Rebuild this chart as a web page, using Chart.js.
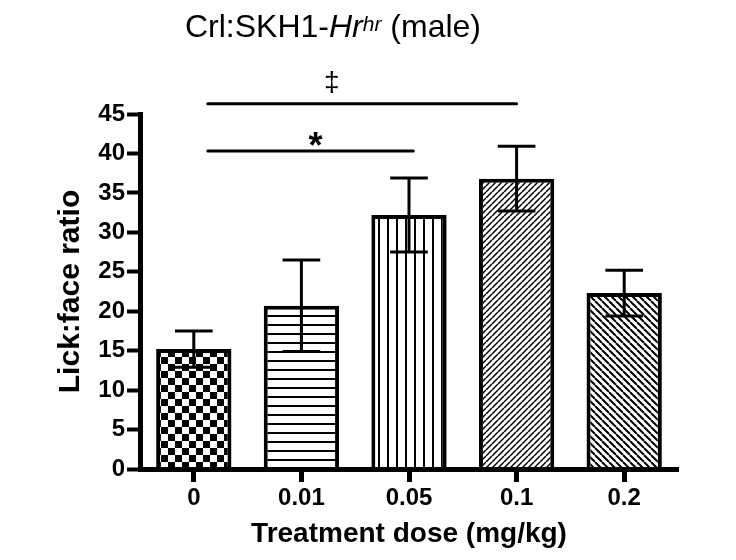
<!DOCTYPE html>
<html>
<head>
<meta charset="utf-8">
<title>Lick:face ratio - Crl:SKH1-Hr(hr) male</title>
<script src="https://cdn.jsdelivr.net/npm/chart.js@4.4.1/dist/chart.umd.min.js"></script>
<style>
  html, body { margin: 0; padding: 0; background: #fff; }
  canvas { display: block; }
</style>
</head>
<body>
<canvas id="licksChart" width="736" height="560"></canvas>
<script>
// Datos
var doses = ['0', '0.01', '0.05', '0.1', '0.2'];
var ratioMean = [15.2, 20.7, 32.2, 36.8, 22.3];
var ratioSem = [2.3, 5.8, 4.7, 4.1, 2.9];
var yMax = 45;
var yStep = 5;

// Comparaciones significativas (en unidades de categoría / valor)
var sigFrom = [0.13, 0.13];
var sigTo = [2.04, 3.0];
var sigLevel = [40.3, 46.3];
var sigMark = ['*', '\u2021'];
var sigMarkAt = [1.13, 1.28];
var sigMarkLevel = [41.8, 49.0];

var FONT = "'Liberation Sans', Arial, Helvetica, sans-serif";

// Tramas en blanco y negro para cada barra
function makePattern(kind) {
    var size = { checker: 14, hlines: 9, vlines: 9, up: 6, down: 7 }[kind];
    var c = document.createElement('canvas');
    c.width = size;
    c.height = size;
    var g = c.getContext('2d');
    g.fillStyle = '#fff';
    g.fillRect(0, 0, size, size);
    g.fillStyle = '#000';
    g.strokeStyle = '#000';
    if (kind === 'checker') {
        g.fillRect(0, 0, 7, 7);
        g.fillRect(7, 7, 7, 7);
    } else if (kind === 'hlines') {
        g.fillRect(0, 0, size, 2);
    } else if (kind === 'vlines') {
        g.fillRect(0, 0, 2, size);
    } else {
        g.lineWidth = kind === 'up' ? 1.5 : 2;
        g.beginPath();
        for (var k = -1; k <= 1; k++) {
            if (kind === 'up') {
                g.moveTo(k * size, size);
                g.lineTo(k * size + size, 0);
            } else {
                g.moveTo(k * size, 0);
                g.lineTo(k * size + size, size);
            }
        }
        g.stroke();
    }
    var ctx = document.getElementById('licksChart').getContext('2d');
    return ctx.createPattern(c, 'repeat');
}

var patterns = [makePattern('checker'), makePattern('hlines'), makePattern('vlines'),
                makePattern('up'), makePattern('down')];

// Barras de error (SEM) y líneas de significancia
var errorBarsPlugin = {
    id: 'errorBars',
    afterDatasetsDraw: function(chart) {
        var ctx = chart.ctx;
        var xs = chart.scales.x;
        var ys = chart.scales.y;
        var meta = chart.getDatasetMeta(0);
        ctx.save();
        ctx.strokeStyle = '#000';
        ctx.lineWidth = 3;
        ratioMean.forEach(function(m, i) {
            var x = xs.getPixelForValue(i);
            var half = meta.data[i].width / 4;
            var top = ys.getPixelForValue(m + ratioSem[i]);
            var bot = ys.getPixelForValue(m - ratioSem[i]);
            ctx.beginPath();
            ctx.moveTo(x, top);
            ctx.lineTo(x, bot);
            ctx.moveTo(x - half, top);
            ctx.lineTo(x + half, top);
            ctx.moveTo(x - half, bot);
            ctx.lineTo(x + half, bot);
            ctx.stroke();
        });

        ctx.lineCap = 'round';
        sigLevel.forEach(function(v, i) {
            var y = ys.getPixelForValue(v);
            ctx.beginPath();
            ctx.moveTo(xs.getPixelForValue(sigFrom[i]), y);
            ctx.lineTo(xs.getPixelForValue(sigTo[i]), y);
            ctx.stroke();

            ctx.fillStyle = '#000';
            ctx.font = sigMark[i] === '*' ? 'bold 36px ' + FONT : '28px ' + FONT;
            ctx.textBaseline = 'alphabetic';
            ctx.textAlign = 'left';
            var m = ctx.measureText(sigMark[i]);
            var cx = xs.getPixelForValue(sigMarkAt[i]);
            var cy = ys.getPixelForValue(sigMarkLevel[i]);
            var w = m.actualBoundingBoxLeft + m.actualBoundingBoxRight;
            var h = m.actualBoundingBoxAscent + m.actualBoundingBoxDescent;
            ctx.fillText(sigMark[i], cx - w / 2 + m.actualBoundingBoxLeft, cy + h / 2 - m.actualBoundingBoxDescent);
        });
        ctx.restore();
    }
};

// Título con cursiva y superíndice
var titlePlugin = {
    id: 'richTitle',
    afterDraw: function(chart) {
        var ctx = chart.ctx;
        var parts = [
            { text: 'Crl:SKH1-', font: '32px ' + FONT, rise: 0 },
            { text: 'Hr', font: 'italic 32px ' + FONT, rise: 0 },
            { text: 'hr', font: 'italic 21px ' + FONT, rise: 6 },
            { text: ' (male)', font: '32px ' + FONT, rise: 0 }
        ];
        ctx.save();
        ctx.fillStyle = '#000';
        ctx.textBaseline = 'alphabetic';
        ctx.textAlign = 'left';
        var total = 0;
        parts.forEach(function(p) {
            ctx.font = p.font;
            p.w = ctx.measureText(p.text).width;
            total += p.w;
        });
        var x = 333 - total / 2;
        var baseline = 37;
        parts.forEach(function(p) {
            ctx.font = p.font;
            ctx.fillText(p.text, x, baseline - p.rise);
            x += p.w;
        });
        ctx.restore();
    }
};

var ctx = document.getElementById('licksChart').getContext('2d');
var licksChart = new Chart(ctx, {
    type: 'bar',
    data: {
        labels: doses,
        datasets: [{
            label: 'Lick:face ratio',
            data: ratioMean,
            backgroundColor: patterns,
            borderColor: '#000',
            borderWidth: 4,
            barPercentage: 0.7,
            categoryPercentage: 1.0
        }]
    },
    options: {
        responsive: false,
        animation: false,
        layout: { padding: { top: 114, right: 58, bottom: 0, left: 0 } },
        plugins: {
            legend: { display: false },
            title: { display: false },
            tooltip: { enabled: false }
        },
        scales: {
            x: {
                grid: { drawOnChartArea: false, offset: false, tickLength: 13, tickWidth: 5, tickColor: '#000' },
                border: { display: true, color: '#000', width: 5, z: 1 },
                ticks: { color: '#000', padding: 2, font: { family: FONT, size: 24, weight: 'bold' } },
                title: {
                    display: true,
                    text: 'Treatment dose (mg/kg)',
                    color: '#000',
                    font: { family: FONT, size: 28, weight: 'bold' },
                    padding: { top: 0, bottom: 9 }
                },
                afterFit: function(scale) { scale.height = 560 - 469; }
            },
            y: {
                min: 0,
                max: yMax,
                grid: { drawOnChartArea: false, tickLength: 13, tickWidth: 4, tickColor: '#000' },
                border: { display: true, color: '#000', width: 5, z: 1 },
                ticks: { stepSize: yStep, color: '#000', padding: 2, font: { family: FONT, size: 24, weight: 'bold' } },
                title: {
                    display: true,
                    text: 'Lick:face ratio',
                    color: '#000',
                    font: { family: FONT, size: 30, weight: 'bold' },
                    padding: { top: 53, bottom: 0 }
                },
                afterFit: function(scale) { scale.width = 140; }
            }
        }
    },
    plugins: [errorBarsPlugin, titlePlugin]
});
</script>
</body>
</html>
